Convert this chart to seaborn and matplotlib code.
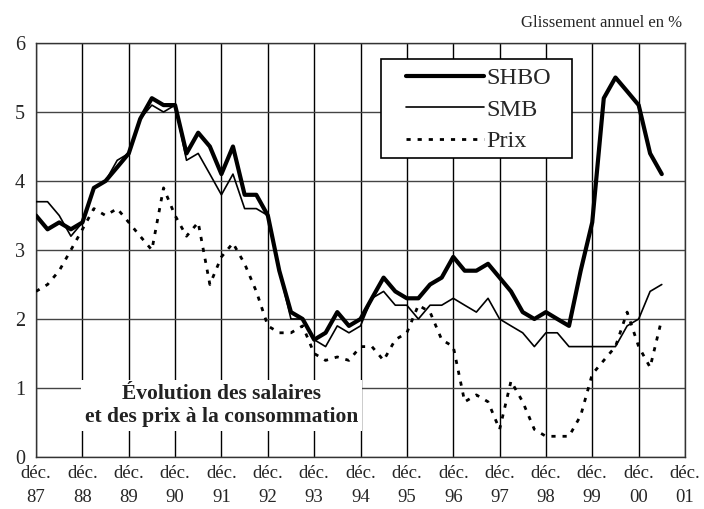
import pandas as pd
import seaborn as sns
import matplotlib.pyplot as plt
from matplotlib.patches import Rectangle
from matplotlib.lines import Line2D

# quarterly series, déc. 87 -> juin 01 (glissement annuel en %)
shbo = [3.5, 3.3, 3.4, 3.3, 3.4, 3.9, 4.0, 4.2, 4.4, 4.9, 5.2, 5.1, 5.1,
        4.4, 4.7, 4.5, 4.1, 4.5, 3.8, 3.8, 3.5, 2.7, 2.1, 2.0, 1.7,
        1.8, 2.1, 1.9, 2.0, 2.3, 2.6, 2.4, 2.3, 2.3, 2.5, 2.6, 2.9,
        2.7, 2.7, 2.8, 2.6, 2.4, 2.1, 2.0, 2.1, 2.0, 1.9, 2.7, 3.4,
        5.2, 5.5, 5.3, 5.1, 4.4, 4.1]
smb = [3.7, 3.7, 3.5, 3.2, 3.4, 3.9, 4.0, 4.3, 4.4, 4.9, 5.1, 5.0, 5.1,
       4.3, 4.4, 4.1, 3.8, 4.1, 3.6, 3.6, 3.5, 2.7, 2.0, 2.0, 1.7,
       1.6, 1.9, 1.8, 1.9, 2.3, 2.4, 2.2, 2.2, 2.0, 2.2, 2.2, 2.3,
       2.2, 2.1, 2.3, 2.0, 1.9, 1.8, 1.6, 1.8, 1.8, 1.6, 1.6, 1.6,
       1.6, 1.6, 1.9, 2.0, 2.4, 2.5]
prix = [2.4, 2.5, 2.7, 3.0, 3.3, 3.6, 3.5, 3.6, 3.4, 3.2, 3.0, 3.9, 3.5,
        3.2, 3.4, 2.5, 2.9, 3.1, 2.8, 2.4, 1.9, 1.8, 1.8, 1.9, 1.5,
        1.4, 1.45, 1.4, 1.6, 1.6, 1.4, 1.7, 1.8, 2.2, 2.1, 1.7, 1.6,
        0.8, 0.9, 0.8, 0.4, 1.1, 0.8, 0.4, 0.3, 0.3, 0.3, 0.6, 1.2,
        1.4, 1.6, 2.1, 1.6, 1.3, 2.0]

dates = pd.date_range("1987-12-01", periods=len(shbo), freq="3MS")
years = list(range(1987, 2002))
tick_labels = [f"déc.\n{y % 100:02d}" for y in years]

df = pd.DataFrame({"date": dates, "SHBO": shbo, "SMB": smb, "Prix": prix})
df = df.melt("date", var_name="serie", value_name="val")

sns.set_style("white")
plt.rcParams["font.family"] = ["Liberation Serif", "DejaVu Serif"]

fig = plt.figure(figsize=(7.04, 5.09), dpi=100)
ax = fig.add_axes([36 / 704, 52 / 509, 649 / 704, 414 / 509])

styles = {
    "SHBO": dict(lw=3.0, ls="-"),
    "SMB": dict(lw=1.2, ls="-"),
    "Prix": dict(lw=2.0, ls=(0, (1.5, 2.5))),
}
for name, st in styles.items():
    sns.lineplot(data=df[df.serie == name], x="date", y="val", color="black",
                 linewidth=st["lw"], linestyle=st["ls"], ax=ax, zorder=4,
                 legend=False)

tick_dates = pd.to_datetime([f"{y}-12-01" for y in years])
ax.set_xlim(tick_dates[0], tick_dates[-1])
ax.set_ylim(0, 6)
ax.set_xticks(tick_dates)
ax.set_xticklabels(tick_labels, fontsize=13.5)
for lab in ax.get_xticklabels():
    lab.set_linespacing(1.55)
ax.set_yticks(range(7))
ax.set_yticklabels([str(v) for v in range(7)], fontsize=14.5)
ax.tick_params(length=0)
ax.tick_params(axis="y", pad=8)
ax.tick_params(axis="x", pad=6)
ax.set_xlabel("")
ax.set_ylabel("")

ax.xaxis.grid(True, color="black", lw=1.0)
ax.yaxis.grid(True, color="#444444", lw=1.0)
ax.set_axisbelow(True)
for sp in ax.spines.values():
    sp.set_color("#333333")
    sp.set_linewidth(1.0)

# annotation box
ax.text(pd.Timestamp("1991-12-01"), 0.75,
        "Évolution des salaires\net des prix à la consommation",
        ha="center", va="center", fontsize=15.5, fontweight="bold",
        linespacing=1.2, color="#222222", zorder=3,
        bbox=dict(facecolor="white", edgecolor="none", pad=3))

# legend with its own frame
ax.add_patch(Rectangle((345 / 649, (457 - 158) / 414), 191 / 649, 99 / 414,
                       transform=ax.transAxes, facecolor="white",
                       edgecolor="black", lw=1.2, zorder=5))
handles = [Line2D([], [], color="black", lw=st["lw"], ls=st["ls"])
           for st in styles.values()]
ax.legend(handles, list(styles.keys()), loc="upper left",
          bbox_to_anchor=(370 / 649, (457 - 67) / 414), frameon=False,
          fontsize=17.5, handlelength=3.2, handletextpad=0.1,
          labelspacing=0.4, borderaxespad=0, borderpad=0)

fig.text(682 / 704, 1 - 23 / 509, "Glissement annuel en %", ha="right",
         va="center", fontsize=12)

fig.savefig("out.png", dpi=100)
